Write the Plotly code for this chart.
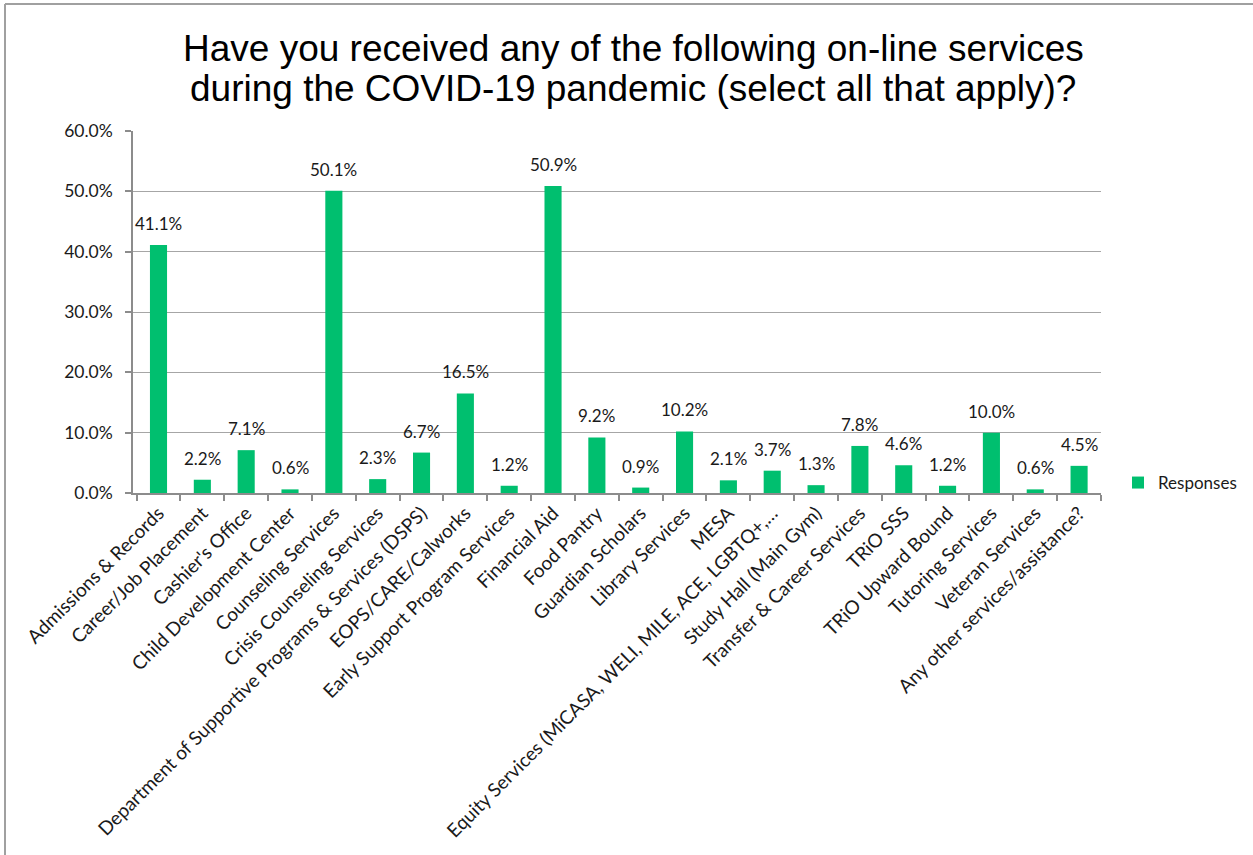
import plotly.graph_objects as go

categories = [
    "Admissions & Records",
    "Career/Job Placement",
    "Cashier's Office",
    "Child Development Center",
    "Counseling Services",
    "Crisis Counseling Services",
    "Department of Supportive Programs & Services (DSPS)",
    "EOPS/CARE/Calworks",
    "Early Support Program Services",
    "Financial Aid",
    "Food Pantry",
    "Guardian Scholars",
    "Library Services",
    "MESA",
    "Equity Services (MiCASA, WELI, MILE, ACE, LGBTQ+,…",
    "Study Hall (Main Gym)",
    "Transfer & Career Services",
    "TRiO SSS",
    "TRiO Upward Bound",
    "Tutoring Services",
    "Veteran Services",
    "Any other services/assistance?",
]
responses = [41.1, 2.2, 7.1, 0.6, 50.1, 2.3, 6.7, 16.5, 1.2, 50.9, 9.2, 0.9,
             10.2, 2.1, 3.7, 1.3, 7.8, 4.6, 1.2, 10.0, 0.6, 4.5]
values = [v / 100 for v in responses]
y_ticks = [0.0, 0.1, 0.2, 0.3, 0.4, 0.5, 0.6]

W, H = 1253, 855
L, R, T, B = 133, 1101, 131, 493

def px(x):
    return (x - L) / (R - L)

def py(y):
    return (B - y) / (B - T)

font_body = "Lato, Carlito, Calibri, sans-serif"
grid = "#a6a6a6"
txt = "#1a1a1a"

fig = go.Figure()
fig.add_trace(go.Bar(
    x=categories, y=values, name="Responses",
    marker=dict(color="#00BF6F", line=dict(width=0)),
    showlegend=True,
))

label_annots = [
    dict(x=c, y=v, xref="x", yref="y", text=f"{r:.1f}%", showarrow=False,
         xanchor="center", yanchor="bottom", yshift=9,
         font=dict(family=font_body, size=17, color=txt))
    for c, v, r in zip(categories, values, responses)
]

title_font = dict(family="Liberation Sans, Arial, sans-serif", size=37, color="#000000")
title_annots = [
    dict(text="Have you received any of the following on-line services",
         xref="paper", yref="paper", x=px(633), y=py(48),
         xanchor="center", yanchor="middle", showarrow=False, font=title_font),
    dict(text="during the COVID-19 pandemic (select all that apply)?",
         xref="paper", yref="paper", x=px(633), y=py(89),
         xanchor="center", yanchor="middle", showarrow=False, font=title_font),
]

fig.update_layout(
    width=W, height=H,
    margin=dict(l=L, r=W - R, t=T, b=H - B, autoexpand=False),
    paper_bgcolor="white", plot_bgcolor="white",
    bargap=0.61,
    font=dict(family=font_body, size=17, color=txt),
    showlegend=True,
    legend=dict(x=px(1118), y=py(483), xanchor="left", yanchor="middle",
                font=dict(family=font_body, size=17, color=txt),
                itemwidth=30, bgcolor="rgba(0,0,0,0)"),
    xaxis=dict(
        type="category", tickangle=-45, automargin=False,
        showline=True, linecolor="#8c8c8c", linewidth=1.5,
        ticks="outside", tickson="boundaries", ticklen=6, tickcolor="#8c8c8c",
        tickwidth=1.5, showgrid=False,
        tickfont=dict(family=font_body, size=19, color=txt),
    ),
    yaxis=dict(
        range=[0, 0.6], tickvals=y_ticks, tickformat=".1%", automargin=False,
        showline=True, linecolor="#8c8c8c", linewidth=1.5,
        ticks="outside", ticklen=6, tickcolor="#8c8c8c", tickwidth=1.5,
        ticklabelstandoff=9,
        showgrid=True, gridcolor=grid, gridwidth=1.2, zeroline=False,
        tickfont=dict(family=font_body, size=17.5, color=txt),
    ),
    annotations=title_annots + label_annots,
    shapes=[
        dict(type="line", xref="paper", yref="paper", x0=px(5), x1=px(1260), y0=py(4), y1=py(4),
             line=dict(color="#a0a0a0", width=2)),
        dict(type="line", xref="paper", yref="paper", x0=px(5), x1=px(5), y0=py(4), y1=py(860),
             line=dict(color="#a0a0a0", width=2)),
    ],
)

fig.write_html("out.html")
